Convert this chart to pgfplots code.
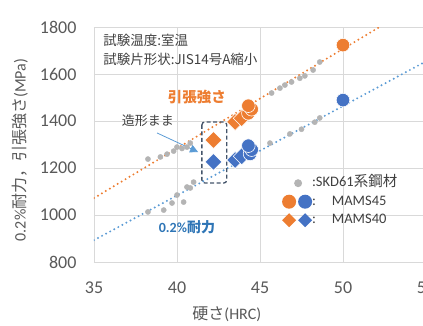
\documentclass[border=0pt]{standalone}
\usepackage{fontspec}
\setmainfont{Carlito}
\newfontfamily\jp{Noto Sans CJK JP}
\usepackage{pgfplots}
\pgfplotsset{compat=1.18}
\usetikzlibrary{arrows.meta}
\definecolor{orng}{HTML}{ED7D31}
\definecolor{blu}{HTML}{4472C4}
\definecolor{lblu}{HTML}{5B9BD5}
\definecolor{txtblu}{HTML}{2E75B6}
\definecolor{gry}{HTML}{B4B4B4}
\definecolor{gridc}{HTML}{D9D9D9}
\definecolor{tickc}{HTML}{595959}
\definecolor{dark}{HTML}{404040}
\definecolor{slate}{HTML}{44546A}
\begin{document}
\begin{tikzpicture}
\path[use as bounding box] (-94pt,-63pt) rectangle (329pt,262pt);
\begin{axis}[
  at={(0,0)}, anchor=south west,
  scale only axis, width=332pt, height=235pt,
  xmin=35, xmax=55, ymin=800, ymax=1800,
  xtick={35,40,45,50,55}, ytick={800,1000,1200,1400,1600,1800},
  grid=major, major grid style={draw=gridc, line width=0.8pt},
  axis line style={draw=gridc, line width=0.8pt},
  tick style={draw=none},
  /pgf/number format/assume math mode=true,
  /pgf/number format/1000 sep={},
  ticklabel style={font=\fontsize{18}{20}\selectfont, text=tickc},
  xticklabel style={yshift=-16pt},
  yticklabel style={xshift=-14pt},
  xlabel={{\jp 硬さ}(HRC)},
  ylabel={0.2\%{\jp 耐力，引張強さ}(MPa)},
  xlabel style={at={(axis description cs:0.40,-0.222)}, anchor=center, font=\fontsize{16}{19}\selectfont, text=tickc},
  ylabel style={at={(axis description cs:-0.223,0.477)}, anchor=center, font=\fontsize{16}{19}\selectfont, text=tickc},
  legend style={at={(axis description cs:0.566,0.366)}, anchor=north west, draw=none, fill=none, inner sep=0pt, row sep=4.5pt, column sep=0pt, font=\fontsize{14.5}{17}\selectfont, text=dark, nodes={inner sep=0pt, text height=10pt, text depth=3pt}},
  legend cell align=left,
]
% SKD61 (grey)
\addplot[forget plot, gry, only marks, mark=*, mark size=2.6pt, mark options={draw=gry, fill=gry}] coordinates {
 (38.25,1238) (39.0,1247) (39.4,1259) (39.8,1272) (40.0,1289) (40.3,1283) (40.6,1289) (40.8,1306)
 (45.7,1519) (46.2,1540) (46.5,1553) (46.9,1566) (47.4,1582) (47.7,1592) (48.2,1617) (48.6,1651)
 (38.25,1013) (39.2,1021) (39.7,1051) (40.0,1085) (40.4,1055) (40.6,1119) (40.8,1115) (41.0,1140)
 (45.6,1306) (46.8,1345) (47.5,1365) (48.3,1395) (48.6,1413)
};
% trend lines
\addplot[forget plot, orng, line width=2.2pt, dash pattern=on 0pt off 4.6pt, line cap=round] coordinates {(35,1072) (52.2,1800)};
\addplot[forget plot, lblu, line width=2.2pt, dash pattern=on 0pt off 4.6pt, line cap=round] coordinates {(35,893) (55,1654)};
% MAMS40 diamonds
\addplot[forget plot, only marks, mark=square*, mark size=6pt, mark options={rotate=45, fill=orng, draw=white, line width=0.6pt}] coordinates {(42.2,1319) (43.5,1396) (43.9,1412)};
\addplot[forget plot, only marks, mark=square*, mark size=6pt, mark options={rotate=45, fill=blu, draw=white, line width=0.6pt}] coordinates {(42.2,1226) (43.5,1234) (43.9,1250)};
% MAMS45 circles
\addplot[forget plot, only marks, mark=*, mark size=6.8pt, mark options={fill=orng, draw=white, line width=0.6pt}] coordinates {(44.3,1433) (44.5,1450) (44.3,1465) (50,1723)};
\addplot[forget plot, only marks, mark=*, mark size=6.8pt, mark options={fill=blu, draw=white, line width=0.6pt}] coordinates {(44.4,1260) (44.5,1278) (44.3,1295) (50,1489)};
% legend
\addlegendimage{legend image code/.code={\path[draw=none,fill=none] (0pt,-7pt) rectangle (30pt,7pt); \fill[gry,draw=none] (16pt,0pt) circle (4pt);}}
\addlegendentry{:SKD61{\jp 系鋼材}}
\addlegendimage{legend image code/.code={\path[draw=none,fill=none] (0pt,-7pt) rectangle (30pt,7pt); \fill[orng,draw=none] (7pt,0pt) circle (7pt); \fill[blu,draw=none] (23pt,0pt) circle (7pt);}}
\addlegendentry{:\hspace{1.1em}MAMS45}
\addlegendimage{legend image code/.code={\path[draw=none,fill=none] (0pt,-7pt) rectangle (30pt,7pt); \fill[orng,draw=none] (0pt,0pt) -- (7pt,7pt) -- (14pt,0pt) -- (7pt,-7pt) -- cycle; \fill[blu,draw=none] (16pt,0pt) -- (23pt,7pt) -- (30pt,0pt) -- (23pt,-7pt) -- cycle;}}
\addlegendentry{:\hspace{1.1em}MAMS40}
% annotations
\node[anchor=north west, align=left, inner sep=0pt, font=\jp\fontsize{13.5}{19}\selectfont, text=dark] at (axis cs:35.55,1772) {試験温度:室温\\試験片形状:JIS14号A縮小};
\node[font=\jp\bfseries\fontsize{14.5}{17}\selectfont, text=orng] at (axis cs:41.2,1502) {引張強さ};
\node[font=\bfseries\fontsize{14}{17}\selectfont, text=txtblu] at (axis cs:40.6,949) {0.2\%{\jp 耐力}};
\node[font=\jp\fontsize{13}{16}\selectfont, text=dark] at (axis cs:38.25,1400) {造形まま};
\draw[lblu, line width=0.8pt, -{Triangle[length=8pt,width=8pt]}] (axis cs:38.8,1349) -- (axis cs:41.27,1268);
\draw[slate, line width=1.3pt, dash pattern=on 4pt off 2.5pt, rounded corners=3pt] (axis cs:41.5,1396) rectangle (axis cs:43.0,1136);
\end{axis}
\end{tikzpicture}
\end{document}
